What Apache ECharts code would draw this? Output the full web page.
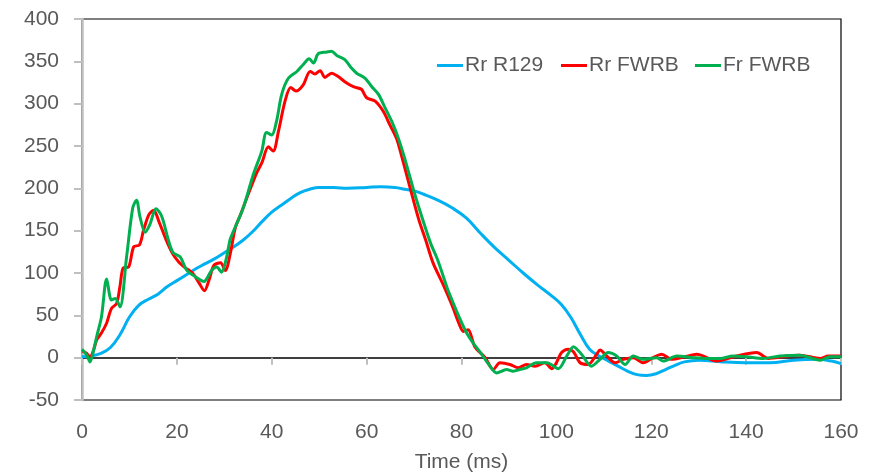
<!DOCTYPE html>
<html>
<head>
<meta charset="utf-8">
<script src="https://cdn.jsdelivr.net/npm/echarts@6/dist/echarts.min.js"></script>
<style>
html,body{margin:0;padding:0;background:#fff;}
#chart{width:876px;height:473px;}
</style>
</head>
<body>
<div id="chart"></div>
<script>
const seriesNames = ['Rr R129', 'Rr FWRB', 'Fr FWRB'];
const xTicks = [0, 20, 40, 60, 80, 100, 120, 140, 160];
const yTicks = [-50, 0, 50, 100, 150, 200, 250, 300, 350, 400];

const tBlue = [0,2,4,6,8,10,12,14,16,18,20,22,24,26,28,30,32,34,36,38,40,42,44,46,48,50,53,56,60,63,66,68,70,72,75,78,81,84,87,90,93,96,99,101,103,105,107,109,111,113,115,117,119,121,123,125,127,130,135,140,145,150,155,158,160];
const vBlue = [1,2,5,12,27,48,62,69,75,84,91,98,105,111,117,124,131,139,149,161,172,180,188,195,199,201,201,200,201,202,201,199,197,193,186,177,165,147,130,115,100,86,73,63,48,28,10,2,-4,-10,-16,-20,-21,-19,-14,-9,-5,-3,-5,-6,-6,-3,-2,-4,-7];

const tRed = [0,1,1.7,2.5,3.1,4.1,5.2,6.2,7.3,8.0,8.7,9.8,10.9,12.1,13.0,14.1,15.1,16.2,17.6,19.0,20.4,21.8,23.3,24.7,25.8,26.8,27.8,29.2,30.2,31.3,32.3,33.5,34.7,36.8,37.9,39.3,40.3,41.4,42.8,44.0,45.1,46.6,48.1,49.1,50.2,51.2,52.6,54.0,55.4,57.2,58.9,60.0,61.8,63.5,64.9,66.3,67,69,71,72.5,74,76,78,79.5,80.4,81.4,82.8,85,86.7,88.1,90.2,92,93.7,95.5,97.6,99,100,101.1,102.5,103.6,105,106.7,108.5,109.2,110.6,112.4,114.1,116.2,118.3,120.4,122.2,124.3,127,129.6,133.8,138,142.2,144.7,148.5,151.3,155.6,157.3,160];
const vRed = [8,5,0,10,21,29,41,58,64,84,106,107,131,133,151,169,174,161,141,124,113,106,100,88,79,92,109,112,103,124,153,170,188,218,230,249,244,267,303,319,315,322,338,335,339,331,336,332,326,320,317,307,303,291,275,259,246,204,163,138,112,88,62,40,31,33,13,0,-14,-6,-8,-12,-8,-10,-6,-13,-6,6,10,7,-6,-8,4,9,2,-6,-2,0,-6,0,4,-2,1,4,-4,2,6,-1,2,3,-1,2,2];

const tGreen = [0,1,1.7,2.5,3.1,4.1,5.2,6.2,7.0,8.0,9.4,10.7,11.5,12.2,13.3,14.3,15.6,16.8,18.2,19.2,20.7,22.1,23.8,25.7,27.3,28.4,29.4,30.5,31.2,31.9,34.0,36.1,37.9,38.9,40.0,41.0,42.1,43.5,45.3,46.6,47.9,48.8,49.8,51.6,52.6,53.7,55.4,56.8,57.9,59.7,61.1,62.5,63.9,65.3,66.7,68,70,72,73.5,75,77,78,79.5,81,82.5,84,86,87.4,89.5,90.9,92.3,93.7,95.8,98,100.4,102.2,103.6,105.3,107.4,109.2,110.9,112.7,114.5,116.2,118.3,121.1,122.5,125.4,128.9,131.7,134.5,137.3,140.1,143.6,147.1,151.3,155.6,157.7,160];
const vGreen = [10,3,-5,10,25,48,93,68,70,60,119,177,186,167,148,157,176,167,139,124,119,103,96,90,103,107,101,119,139,149,177,216,244,266,263,279,311,330,338,346,353,348,359,361,362,357,352,342,336,330,320,311,295,279,259,236,196,160,135,115,82,68,48,30,17,6,-10,-18,-14,-16,-14,-12,-6,-6,-13,2,13,4,-10,-2,6,2,-8,2,-2,0,-4,2,0,-1,-1,2,1,-1,2,3,-3,1,1];

const colors = ['#00B0F0', '#FF0000', '#00B050'];
const FONT = '"Liberation Sans", Arial, sans-serif';
const TXT = '#595959';

function pairs(t, v) { return t.map((x, i) => [x, v[i]]); }

const chart = echarts.init(document.getElementById('chart'), null, {renderer: 'canvas'});

const legendLefts = [432, 556, 690];
const option = {
  animation: false,
  backgroundColor: '#fff',
  textStyle: {fontFamily: FONT},
  grid: {left: 82, right: 35, top: 19, bottom: 73, containLabel: false, outerBoundsMode: 'none',
         show: true, borderColor: '#000', borderWidth: 1.2, backgroundColor: 'transparent'},
  legend: seriesNames.map((n, i) => ({
    data: [n], left: legendLefts[i], top: 50, icon: 'rect', itemWidth: 26, itemHeight: 3, itemGap: 0,
    textStyle: {color: TXT, fontSize: 21, fontFamily: FONT, padding: [0, 0, 0, -3]}
  })),
  xAxis: [
    {
      type: 'value', min: xTicks[0], max: xTicks[xTicks.length - 1], interval: 20, position: 'bottom',
      axisLine: {show: true, onZero: true, lineStyle: {color: '#000', width: 1.5}},
      axisTick: {show: true, length: 7, lineStyle: {color: '#BFBFBF', width: 2}},
      axisLabel: {show: false}, splitLine: {show: false}
    },
    {
      type: 'value', min: xTicks[0], max: xTicks[xTicks.length - 1], interval: 20, position: 'bottom',
      axisLine: {show: false, onZero: false}, axisTick: {show: false}, splitLine: {show: false},
      axisLabel: {show: true, color: TXT, fontSize: 21, fontFamily: FONT, margin: 22},
      name: 'Time (ms)', nameLocation: 'middle', nameGap: 52,
      nameTextStyle: {color: TXT, fontSize: 21, fontFamily: FONT}
    }
  ],
  yAxis: {
    type: 'value', min: yTicks[0], max: yTicks[yTicks.length - 1], interval: 50,
    axisLine: {show: true, onZero: false, lineStyle: {color: '#BFBFBF', width: 2.5}},
    axisTick: {show: true, length: 8, lineStyle: {color: '#BFBFBF', width: 2}},
    axisLabel: {color: TXT, fontSize: 21, fontFamily: FONT, margin: 23},
    splitLine: {show: false}
  },
  series: [
    {name: seriesNames[0], type: 'line', xAxisIndex: 0, data: pairs(tBlue, vBlue), smooth: 0.4, showSymbol: false, lineStyle: {color: colors[0], width: 3}, itemStyle: {color: colors[0]}},
    {name: seriesNames[1], type: 'line', xAxisIndex: 0, data: pairs(tRed, vRed), smooth: 0.3, showSymbol: false, lineStyle: {color: colors[1], width: 3}, itemStyle: {color: colors[1]}},
    {name: seriesNames[2], type: 'line', xAxisIndex: 0, data: pairs(tGreen, vGreen), smooth: 0.3, showSymbol: false, lineStyle: {color: colors[2], width: 3}, itemStyle: {color: colors[2]}}
  ]
};
chart.setOption(option);
</script>
</body>
</html>
